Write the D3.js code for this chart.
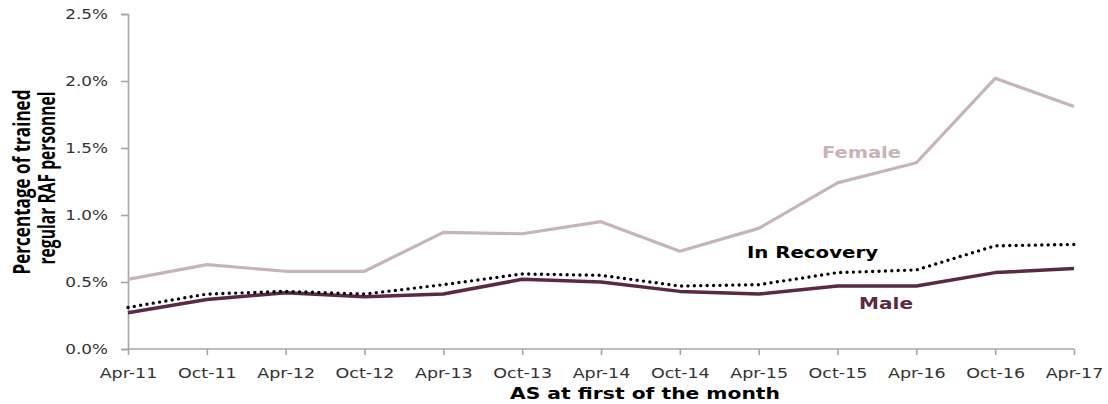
<!DOCTYPE html>
<html>
<head>
<meta charset="utf-8">
<script src="https://cdn.jsdelivr.net/npm/d3@7"></script>
<style>
  html, body { margin: 0; padding: 0; background: #fff; }
  svg { display: block; }
</style>
</head>
<body>
<svg id="chart" width="1108" height="404"></svg>
<script>
// Periods (first of the month)
const categories = ["Apr-11","Oct-11","Apr-12","Oct-12","Apr-13","Oct-13","Apr-14",
                    "Oct-14","Apr-15","Oct-15","Apr-16","Oct-16","Apr-17"];
// Percentage of trained regular RAF personnel
const femaleValues   = [0.52, 0.63, 0.58, 0.58, 0.87, 0.86, 0.95, 0.73, 0.90, 1.24, 1.39, 2.02, 1.81];
const maleValues     = [0.27, 0.37, 0.42, 0.39, 0.41, 0.52, 0.50, 0.43, 0.41, 0.47, 0.47, 0.57, 0.60];
const recoveryValues = [0.31, 0.41, 0.43, 0.41, 0.48, 0.56, 0.55, 0.47, 0.48, 0.57, 0.59, 0.77, 0.78];
const yTicks = [0, 0.5, 1.0, 1.5, 2.0, 2.5];

const svg = d3.select("#chart");

const x = d3.scalePoint().domain(categories).range([128, 1074]);
const y = d3.scaleLinear().domain([0, 2.5]).range([349, 14]);

// widen text glyphs horizontally by factor k
function stretch(sel, k) {
  sel.each(function () {
    const w = this.getComputedTextLength();
    d3.select(this).attr("textLength", w * k).attr("lengthAdjust", "spacingAndGlyphs");
  });
}

const axisColor = "#a6a6a6";
const tickFont = "'DejaVu Sans', Verdana, sans-serif";

// y axis
const yAxis = svg.append("g")
  .attr("transform", "translate(128,0)")
  .call(d3.axisLeft(y).tickValues(yTicks).tickSize(7).tickSizeOuter(7).tickPadding(13)
        .tickFormat(d => d3.format(".1f")(d) + "%"));
yAxis.selectAll("path, line").attr("stroke", axisColor).attr("stroke-width", 1.6);
yAxis.selectAll("text").attr("font-family", tickFont).attr("font-size", 14).attr("fill", "#333");
stretch(yAxis.selectAll("text"), 1.2);

// x axis
const xAxis = svg.append("g")
  .attr("transform", "translate(0,349)")
  .call(d3.axisBottom(x).tickSize(6).tickSizeOuter(0).tickPadding(13));
xAxis.select(".domain").attr("d", "M128,0H1074");
xAxis.selectAll("path, line").attr("stroke", axisColor).attr("stroke-width", 1.6);
xAxis.selectAll("text").attr("font-family", tickFont).attr("font-size", 14).attr("fill", "#333");
stretch(xAxis.selectAll("text"), 1.25);

// series lines
const line = d3.line().x((d, i) => x(categories[i])).y(d => y(d));

svg.append("path").datum(femaleValues)
  .attr("d", line).attr("fill", "none")
  .attr("stroke", "#c7b4b8").attr("stroke-width", 3.2).attr("stroke-linejoin", "round");

svg.append("path").datum(maleValues)
  .attr("d", line).attr("fill", "none")
  .attr("stroke", "#5a2a44").attr("stroke-width", 3.5).attr("stroke-linejoin", "round");

svg.append("path").datum(recoveryValues)
  .attr("d", line).attr("fill", "none")
  .attr("stroke", "#000").attr("stroke-width", 3.4).attr("stroke-linecap", "round")
  .attr("stroke-dasharray", "0 6.4");

// series labels
const labelFont = "'DejaVu Sans', Verdana, sans-serif";
const labels = [
  { text: "Female", x: 822, y: 158, len: 79, color: "#c7b4b8" },
  { text: "In Recovery", x: 747, y: 258, len: 131, color: "#000" },
  { text: "Male", x: 859, y: 309, len: 54, color: "#5a2a44" }
];
svg.selectAll("text.series-label").data(labels).enter().append("text")
  .attr("class", "series-label")
  .attr("x", d => d.x).attr("y", d => d.y)
  .attr("font-family", labelFont).attr("font-weight", "bold").attr("font-size", 16.5)
  .attr("fill", d => d.color)
  .attr("textLength", d => d.len).attr("lengthAdjust", "spacingAndGlyphs")
  .text(d => d.text);

// x axis title
svg.append("text")
  .attr("x", 645).attr("y", 399)
  .attr("text-anchor", "middle")
  .attr("font-family", labelFont).attr("font-weight", "bold").attr("font-size", 16.5)
  .attr("fill", "#000")
  .attr("textLength", 270).attr("lengthAdjust", "spacingAndGlyphs")
  .text("AS at first of the month");

// y axis title (two lines)
const yTitle = [
  { text: "Percentage of trained", bx: 30, cy: 182, len: 185 },
  { text: "regular RAF personnel", bx: 55, cy: 178, len: 173 }
];
svg.selectAll("text.y-title").data(yTitle).enter().append("text")
  .attr("class", "y-title")
  .attr("transform", d => `translate(${d.bx},${d.cy}) rotate(-90) scale(1,1.35)`)
  .attr("text-anchor", "middle")
  .attr("font-family", "'Open Sans', Lato, sans-serif").attr("font-weight", "bold").attr("font-size", 17)
  .attr("fill", "#000")
  .attr("textLength", d => d.len).attr("lengthAdjust", "spacingAndGlyphs")
  .text(d => d.text);
</script>
</body>
</html>
